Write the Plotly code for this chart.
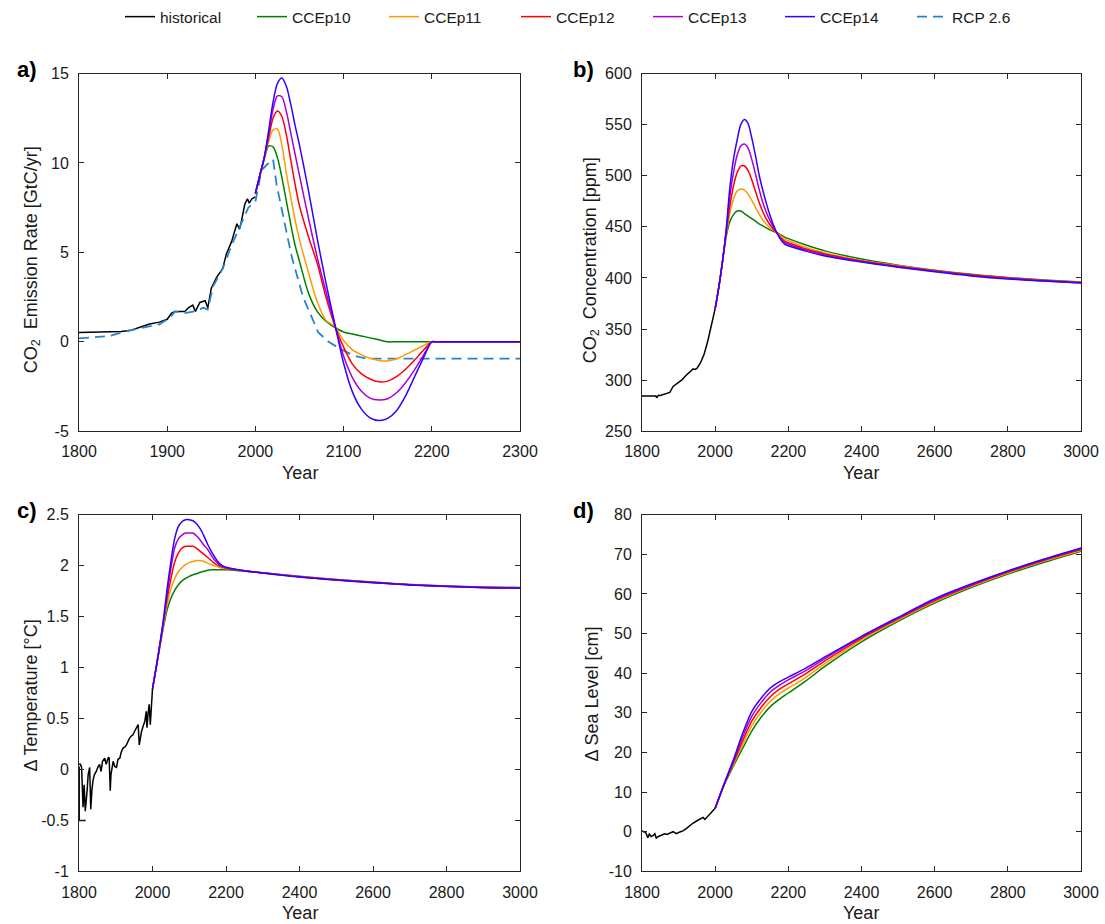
import plotly.graph_objects as go

# ---------------- data ----------------
# a) CO2 emission rate [GtC/yr]
em_hist_years = [1800, 1848, 1859, 1871, 1880, 1891, 1900, 1905, 1909, 1914, 1920, 1924,
                 1929, 1932, 1937, 1943, 1946, 1950, 1956, 1963, 1967, 1973, 1977, 1979,
                 1982, 1984, 1988, 1991, 1993, 1996, 2000]
em_hist = [0.52, 0.57, 0.65, 0.83, 1.0, 1.1, 1.26, 1.6, 1.7, 1.7, 1.7, 1.9,
           2.05, 1.7, 2.2, 2.3, 1.9, 3.0, 3.6, 4.1, 4.9, 5.6, 6.2, 6.6,
           6.3, 6.7, 7.7, 8.0, 7.75, 8.0, 8.1]

rcp_years = [1800, 1835, 1854, 1873, 1891, 1903, 1909, 1920, 1931, 1941, 1946, 1952,
             1963, 1973, 1982, 1992, 2000, 2007, 2013, 2020, 2024, 2030, 2035, 2041,
             2047, 2054, 2064, 2071, 2083, 2096, 2111, 2126, 2300]
rcp26 = [0.19, 0.33, 0.6, 0.8, 0.98, 1.35, 1.7, 1.6, 1.7, 1.9, 1.8, 3.1,
         4.1, 5.4, 6.4, 7.5, 7.85, 9.6, 9.9, 10.2, 8.8, 7.3, 6.2, 4.8,
         3.8, 2.5, 1.37, 0.54, 0.0, -0.39, -0.76, -0.94, -0.94]

em_years = [2000, 2005, 2010, 2015, 2020, 2025, 2030, 2035, 2040, 2045, 2050, 2060,
            2070, 2080, 2090, 2100, 2110, 2120, 2130, 2140, 2150, 2160, 2170, 2180,
            2190, 2200, 2205, 2300]
em_p10 = [8.3, 9.3, 10.2, 10.95, 10.9, 10.3, 9.2, 7.9, 6.6, 5.4, 4.5, 2.75,
          1.7, 1.15, 0.8, 0.55, 0.44, 0.33, 0.22, 0.11, 0.0, 0.0, 0.0, 0.0,
          0.0, 0.0, 0.0, 0.0]
em_p11 = [8.3, 9.3, 10.25, 11.2, 11.85, 11.9, 11.0, 9.45, 8.1, 6.8, 5.7, 3.9,
          2.25, 1.2, 0.85, 0.07, -0.45, -0.72, -0.92, -1.04, -1.07, -0.95, -0.72, -0.47,
          -0.22, 0.0, 0.0, 0.0]
em_p12 = [8.3, 9.3, 10.3, 11.4, 12.5, 12.9, 12.6, 11.6, 10.2, 8.8, 7.6, 5.9,
          4.4, 2.5, 0.9, -0.3, -1.25, -1.78, -2.08, -2.24, -2.2, -1.95, -1.55, -1.05,
          -0.5, 0.0, 0.0, 0.0]
em_p13 = [8.3, 9.3, 10.3, 11.6, 13.0, 13.75, 13.7, 12.9, 11.7, 10.5, 9.3, 6.95,
          4.75, 2.8, 0.95, -0.8, -2.0, -2.75, -3.15, -3.26, -3.18, -2.85, -2.3, -1.6,
          -0.8, 0.0, 0.0, 0.0]
em_p14 = [8.3, 9.3, 10.3, 11.8, 13.4, 14.45, 14.75, 14.3, 13.3, 12.1, 11.0, 8.5,
          5.8, 3.3, 1.0, -1.2, -2.8, -3.75, -4.25, -4.4, -4.28, -3.85, -3.05, -2.0,
          -0.95, 0.0, 0.0, 0.0]

# b) CO2 concentration [ppm]
co2_hist_years = [1800, 1810, 1820, 1830, 1838, 1840, 1845, 1850, 1860, 1870, 1876,
                  1885, 1890, 1900, 1910, 1920, 1930, 1940, 1945, 1950, 1960, 1970,
                  1980, 1990, 2000]
co2_hist = [284.4, 284.6, 284.8, 284.6, 284.5, 282.8, 285.2, 285.0, 286.0, 287.5, 288.0,
            293.8, 295.0, 297.5, 300.5, 304.5, 307.5, 311.0, 310.5, 311.5, 317.0, 325.5,
            338.5, 353.5, 370.0]

co2_years = [2000, 2010, 2020, 2030, 2040, 2050, 2060, 2070, 2080, 2090, 2100, 2110,
             2120, 2130, 2140, 2150, 2160, 2170, 2180, 2190, 2200, 2250, 2300, 2400,
             2500, 2600, 2700, 2800, 2900, 3000]
co2_p10 = [370, 391, 416, 440, 455, 462, 465.5, 465.5, 463, 460.5, 458, 455.5,
           453, 451, 449, 447, 445.5, 444, 442, 440, 438.5, 432, 426.5, 418.5,
           412.5, 407.5, 403.5, 400.5, 398, 396]
co2_p11 = [370, 391, 416, 442, 463, 477, 485, 487, 486, 482, 476, 469,
           462.5, 457, 452.5, 449, 446.5, 444, 441, 438, 436.5, 429.5, 424.5, 417,
           412, 407, 403, 400, 397.5, 395.7]
co2_p12 = [370, 391, 416, 444, 470, 490, 503, 509.5, 509.5, 505, 496, 485,
           474, 465, 457.5, 452, 447.5, 443.5, 439, 436, 434.5, 428, 423.5, 416.5,
           411.5, 407, 403, 400, 397.5, 395.5]
co2_p13 = [370, 391, 416, 445, 479, 503, 520, 529, 531, 527, 516, 502,
           487, 474, 464, 456, 449.5, 443.5, 438, 434.5, 433, 427, 422.5, 416,
           411, 406.5, 402.5, 399.5, 397, 395.2]
co2_p14 = [370, 391, 416, 447, 488, 516, 535, 550, 555, 551, 537, 520,
           501, 486, 473, 461, 451, 443, 437, 433, 431.5, 426, 421.5, 415.5,
           410.5, 406, 402, 399, 397, 395]

# c) temperature change [°C]
t_hist_years = [1800, 1804, 1807, 1811, 1814, 1817, 1822, 1825, 1829, 1832, 1835, 1838,
                1842, 1847, 1851, 1856, 1860, 1864, 1868, 1870, 1874, 1879, 1882, 1885,
                1887, 1890, 1893, 1897, 1902, 1906, 1911, 1915, 1920, 1925, 1929, 1934,
                1938, 1943, 1947, 1952, 1956, 1961, 1964, 1966, 1970, 1975, 1979, 1983,
                1985, 1988, 1991, 1994, 1997, 2000]
t_hist = [0.05, 0.05, 0.02, -0.37, -0.15, -0.41, -0.21, -0.05, 0.02, -0.39, -0.21, -0.11,
          -0.05, -0.02, 0.02, 0.05, -0.02, 0.08, 0.1, 0.11, 0.05, 0.11, 0.12, -0.21,
          -0.05, 0.02, 0.08, 0.03, 0.02, 0.1, 0.11, 0.17, 0.21, 0.22, 0.24, 0.28,
          0.31, 0.33, 0.34, 0.38, 0.41, 0.44, 0.24, 0.3, 0.37, 0.43, 0.47, 0.57,
          0.41, 0.55, 0.64, 0.44, 0.67, 0.79]
# early baseline segment of the temperature record
t_base_years = [1800.5, 1800.5, 1818]
t_base = [0.03, -0.5, -0.5]

t_years = [2000, 2010, 2020, 2030, 2040, 2050, 2060, 2070, 2080, 2090, 2100, 2110,
           2120, 2130, 2140, 2150, 2160, 2170, 2180, 2190, 2200, 2250, 2300, 2400,
           2500, 2600, 2700, 2800, 2900, 3000]
t_p10 = [0.79, 1.0, 1.2, 1.4, 1.57, 1.68, 1.755, 1.81, 1.85, 1.875, 1.895, 1.91,
         1.92, 1.935, 1.945, 1.955, 1.96, 1.96, 1.96, 1.96, 1.96, 1.945, 1.93, 1.895,
         1.865, 1.84, 1.815, 1.8, 1.79, 1.785]
t_p11 = [0.79, 1.0, 1.21, 1.42, 1.62, 1.77, 1.87, 1.94, 1.98, 2.01, 2.03, 2.04,
         2.05, 2.05, 2.04, 2.025, 2.01, 1.995, 1.985, 1.975, 1.97, 1.95, 1.93, 1.893,
         1.863, 1.838, 1.814, 1.799, 1.789, 1.784]
t_p12 = [0.79, 1.0, 1.22, 1.45, 1.68, 1.87, 2.03, 2.12, 2.17, 2.19, 2.19, 2.19,
         2.17, 2.14, 2.11, 2.08, 2.05, 2.02, 2.0, 1.985, 1.975, 1.95, 1.93, 1.892,
         1.862, 1.837, 1.813, 1.798, 1.787, 1.782]
t_p13 = [0.79, 1.0, 1.22, 1.46, 1.72, 1.97, 2.17, 2.26, 2.3, 2.32, 2.32, 2.32,
         2.29, 2.25, 2.2, 2.16, 2.1, 2.05, 2.015, 1.99, 1.98, 1.95, 1.928, 1.89,
         1.86, 1.835, 1.812, 1.797, 1.786, 1.781]
t_p14 = [0.79, 1.0, 1.23, 1.48, 1.78, 2.04, 2.26, 2.38, 2.43, 2.45, 2.45, 2.44,
         2.41, 2.36, 2.29, 2.21, 2.14, 2.08, 2.03, 2.0, 1.985, 1.95, 1.927, 1.888,
         1.858, 1.833, 1.81, 1.795, 1.784, 1.779]

# d) sea level change [cm]
sl_hist_years = [1800, 1805, 1810, 1816, 1820, 1825, 1830, 1835, 1839, 1845, 1850, 1857,
                 1862, 1868, 1875, 1880, 1885, 1890, 1894, 1900, 1906, 1912, 1920, 1930,
                 1940, 1949, 1955, 1962, 1967, 1972, 1978, 1985, 1990, 1995, 2000]
sl_hist = [0.2, 0.0, -0.2, -1.5, -0.6, -1.2, -1.0, -0.5, -1.6, -1.2, -1.0, -0.8,
           -0.5, -0.7, -0.3, -0.2, 0.0, -0.4, -0.5, -0.2, 0.0, 0.2, 0.7, 1.5,
           2.2, 2.7, 3.0, 3.3, 3.6, 3.1, 3.7, 4.4, 4.8, 5.3, 5.9]

sl_years = [2000, 2025, 2050, 2075, 2100, 2125, 2150, 2175, 2200, 2250, 2300, 2400,
            2500, 2600, 2700, 2800, 2900, 3000]
sl_p10 = [5.9, 11.9, 16.6, 21.0, 25.4, 28.8, 31.5, 33.4, 35.0, 38.2, 41.7, 47.9,
          53.1, 57.7, 61.6, 65.0, 68.0, 70.8]
sl_p11 = [5.9, 12.0, 17.0, 22.0, 26.7, 30.1, 32.8, 34.8, 36.2, 39.1, 42.4, 48.4,
          53.4, 58.0, 61.9, 65.3, 68.3, 71.0]
sl_p12 = [5.9, 12.0, 17.4, 22.9, 27.9, 31.3, 34.0, 35.9, 37.3, 40.0, 43.1, 48.8,
          53.7, 58.3, 62.1, 65.5, 68.5, 71.2]
sl_p13 = [5.9, 12.1, 17.8, 23.9, 29.1, 32.5, 35.2, 36.9, 38.3, 40.8, 43.7, 49.1,
          53.9, 58.6, 62.3, 65.7, 68.7, 71.4]
sl_p14 = [5.9, 12.2, 18.2, 24.8, 30.3, 33.6, 36.2, 37.8, 39.0, 41.4, 44.1, 49.3,
          54.1, 58.8, 62.5, 65.8, 68.8, 71.6]

scenario_names = ["CCEp10", "CCEp11", "CCEp12", "CCEp13", "CCEp14"]
scenario_colors = ["#008000", "#FF9A00", "#FF0000", "#A800D8", "#3300FF"]
hist_color = "#000000"
rcp_color = "#2784CC"

# ---------------- figure ----------------
W, H = 1105, 924
FONT = "Liberation Sans, Arial, Helvetica, sans-serif"
AX = "#262626"
TXT = "#1a1a1a"

fig = go.Figure()

panels = [
    # (axis suffix, hist x, hist y, scenario x, scenario ys)
    ("", em_hist_years, em_hist, em_years, [em_p10, em_p11, em_p12, em_p13, em_p14]),
    ("2", co2_hist_years, co2_hist, co2_years, [co2_p10, co2_p11, co2_p12, co2_p13, co2_p14]),
    ("3", t_hist_years, t_hist, t_years, [t_p10, t_p11, t_p12, t_p13, t_p14]),
    ("4", sl_hist_years, sl_hist, sl_years, [sl_p10, sl_p11, sl_p12, sl_p13, sl_p14]),
]

for i, (sfx, hx, hy, sx, sys_) in enumerate(panels):
    xa, ya = "x" + sfx, "y" + sfx
    first = i == 0
    if sfx == "3":
        fig.add_trace(go.Scatter(x=t_base_years, y=t_base, mode="lines", xaxis=xa, yaxis=ya,
                                 line=dict(color=hist_color, width=1.5),
                                 legendgroup="historical", showlegend=False, hoverinfo="skip"))
    fig.add_trace(go.Scatter(x=hx, y=hy, mode="lines", name="historical", xaxis=xa, yaxis=ya,
                             line=dict(color=hist_color, width=1.5),
                             legendgroup="historical", showlegend=first, legendrank=1))
    if first:
        fig.add_trace(go.Scatter(x=rcp_years, y=rcp26, mode="lines", name="RCP 2.6",
                                 xaxis=xa, yaxis=ya,
                                 line=dict(color=rcp_color, width=1.8, dash="10px,6px"),
                                 legendgroup="rcp", showlegend=True, legendrank=10))
    for k, (nm, col, yv) in enumerate(zip(scenario_names, scenario_colors, sys_)):
        fig.add_trace(go.Scatter(x=sx, y=yv, mode="lines", name=nm, xaxis=xa, yaxis=ya,
                                 line=dict(color=col, width=1.5, shape="spline", smoothing=0.8),
                                 legendgroup=nm, showlegend=first, legendrank=2 + k))

xl = [79 / W, 520 / W]
xr = [642 / W, 1081 / W]
yt = [1 - 428 / H, 1 - 68 / H]
yb = [1 - 871 / H, 1 - 512 / H]


def axis_style(**kw):
    d = dict(showline=True, linecolor=AX, linewidth=1, mirror="ticks", ticks="inside",
             ticklen=5, tickcolor=AX, tickwidth=1, showgrid=False, zeroline=False,
             automargin=False, ticklabelstandoff=6,
             tickfont=dict(family=FONT, size=16, color=TXT), fixedrange=True)
    d.update(kw)
    return d


def num_text(vals):
    return ["%g" % v for v in vals]


ta = [-5, 0, 5, 10, 15]
tb = [250, 300, 350, 400, 450, 500, 550, 600]
tc = [-1, -0.5, 0, 0.5, 1, 1.5, 2, 2.5]
td = [-10, 0, 10, 20, 30, 40, 50, 60, 70, 80]
x_short = [1800, 1900, 2000, 2100, 2200, 2300]
x_long = [1800, 2000, 2200, 2400, 2600, 2800, 3000]

fig.update_layout(
    template="none",
    width=W, height=H,
    margin=dict(l=0, r=0, t=0, b=0),
    paper_bgcolor="white", plot_bgcolor="white",
    font=dict(family=FONT, color=TXT),
    showlegend=True,
    legend=dict(orientation="h", x=120 / W, xanchor="left", y=1 + 6 / H, yanchor="top",
                font=dict(family=FONT, size=15.5, color=TXT),
                bgcolor="rgba(0,0,0,0)", entrywidth=87, entrywidthmode="pixels",
                tracegroupgap=0),
    xaxis=axis_style(domain=xl, anchor="y", range=[1800, 2300], tickvals=x_short,
                     ticktext=num_text(x_short)),
    yaxis=axis_style(domain=yt, anchor="x", range=[-5, 15], tickvals=ta,
                     ticktext=num_text(ta)),
    xaxis2=axis_style(domain=xr, anchor="y2", range=[1800, 3000], tickvals=x_long,
                      ticktext=num_text(x_long)),
    yaxis2=axis_style(domain=yt, anchor="x2", range=[250, 600], tickvals=tb,
                      ticktext=num_text(tb)),
    xaxis3=axis_style(domain=xl, anchor="y3", range=[1800, 3000], tickvals=x_long,
                      ticktext=num_text(x_long)),
    yaxis3=axis_style(domain=yb, anchor="x3", range=[-1, 2.5], tickvals=tc,
                      ticktext=num_text(tc)),
    xaxis4=axis_style(domain=xr, anchor="y4", range=[1800, 3000], tickvals=x_long,
                      ticktext=num_text(x_long)),
    yaxis4=axis_style(domain=yb, anchor="x4", range=[-10, 80], tickvals=td,
                      ticktext=num_text(td)),
)

TITLE = dict(family=FONT, size=18, color=TXT)
ann = []
# x-axis titles
for cx, cy in [(300, 470), (861, 470), (300, 913), (861, 913)]:
    ann.append(dict(text="Year", x=cx / W, y=1 - cy / H, xref="paper", yref="paper",
                    showarrow=False, xanchor="center", yanchor="middle", font=TITLE))
# y-axis titles
for txt, cx, cy in [("CO<sub>2</sub>  Emission Rate [GtC/yr]", 32, 256),
                    ("CO<sub>2</sub>  Concentration [ppm]", 591, 256),
                    ("\u0394 Temperature [\u00b0C]", 31, 694),
                    ("\u0394 Sea Level [cm]", 591, 693)]:
    ann.append(dict(text=txt, x=cx / W, y=1 - cy / H, xref="paper", yref="paper",
                    showarrow=False, xanchor="center", yanchor="middle", textangle=-90,
                    font=TITLE))
# panel labels
for txt, cx, cy in [("a)", 27, 64), ("b)", 583, 64), ("c)", 27, 508), ("d)", 583, 508)]:
    ann.append(dict(text="<b>%s</b>" % txt, x=cx / W, y=1 - cy / H, xref="paper",
                    yref="paper", showarrow=False, xanchor="center", yanchor="middle",
                    font=dict(family=FONT, size=22, color="#000000")))
fig.update_layout(annotations=ann)

fig.write_html("out.html")
